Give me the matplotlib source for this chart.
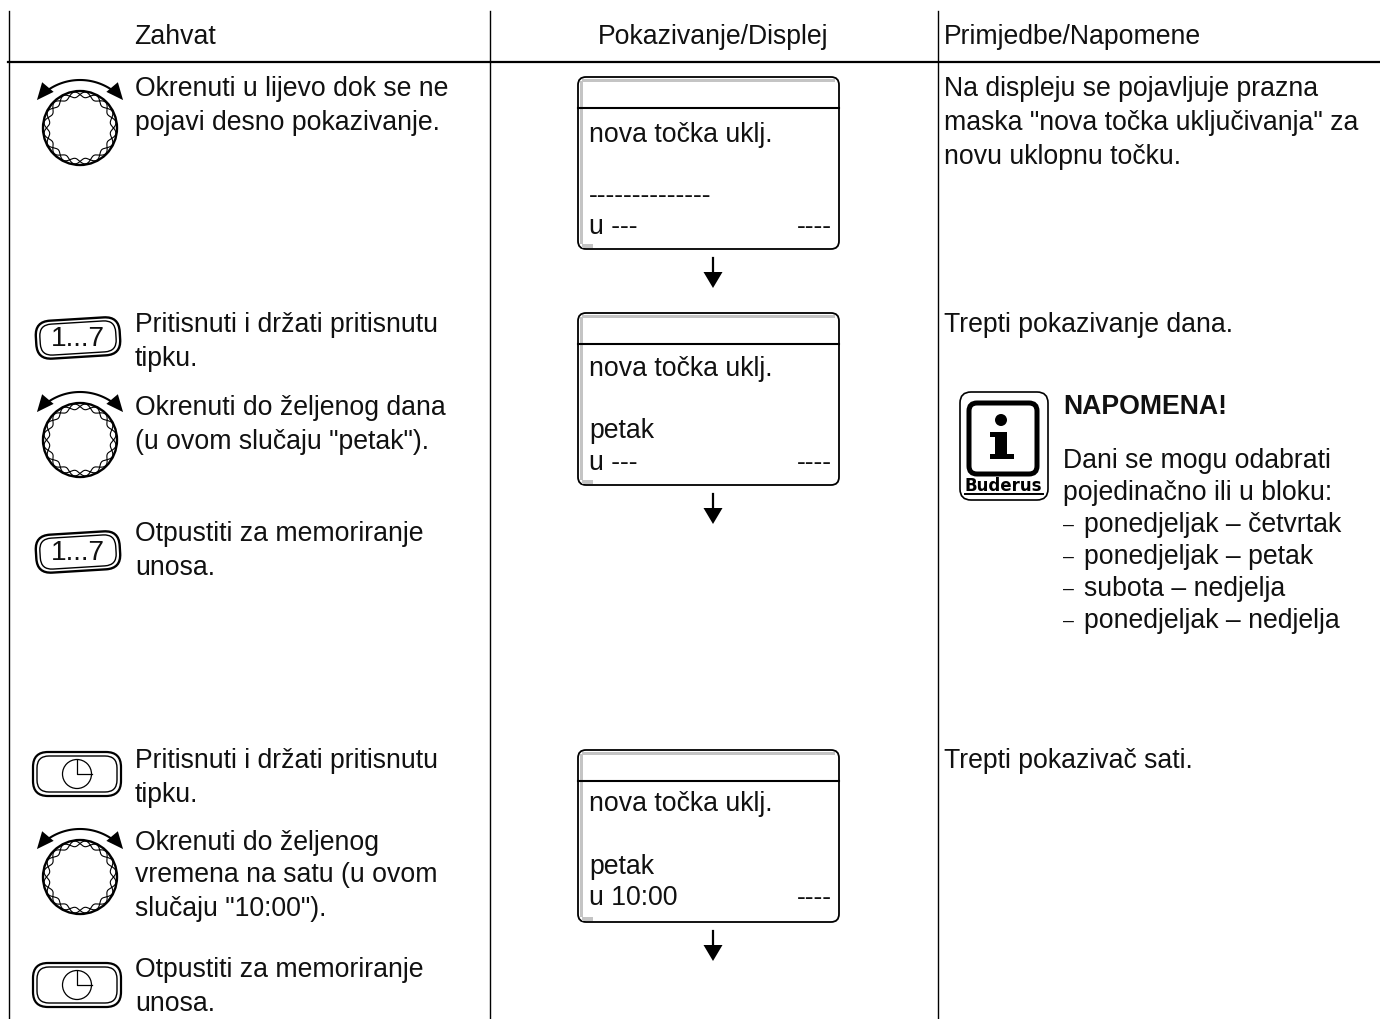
import numpy as np
import matplotlib.pyplot as plt
from matplotlib.patches import FancyBboxPatch, Circle, Rectangle, Polygon
from matplotlib.transforms import Affine2D

plt.rcParams['font.family'] = ['Liberation Sans', 'DejaVu Sans']

FS = 19.2

HEADERS = ['Zahvat', 'Pokazivanje/Displej', 'Primjedbe/Napomene']

LEFT_TEXT = [
  'Okrenuti u lijevo dok se ne', 'pojavi desno pokazivanje.',
  'Pritisnuti i držati pritisnutu', 'tipku.',
  'Okrenuti do željenog dana', '(u ovom slučaju "petak").',
  'Otpustiti za memoriranje', 'unosa.',
  'Pritisnuti i držati pritisnutu', 'tipku.',
  'Okrenuti do željenog', 'vremena na satu (u ovom', 'slučaju "10:00").',
  'Otpustiti za memoriranje', 'unosa.',
]
LEFT_Y = [87, 121, 323, 357, 406, 440, 532, 566, 759, 793, 841, 873, 907, 968, 1002]

RIGHT_TEXT = [
  'Na displeju se pojavljuje prazna', 'maska "nova točka uključivanja" za', 'novu uklopnu točku.',
  'Trepti pokazivanje dana.', 'Trepti pokazivač sati.',
]
RIGHT_Y = [87, 121, 155, 323, 759]

NOTE_TITLE = 'NAPOMENA!'
NOTE_TEXT = ['Dani se mogu odabrati', 'pojedinačno ili u bloku:']
NOTE_ITEMS = ['ponedjeljak – četvrtak', 'ponedjeljak – petak', 'subota – nedjelja', 'ponedjeljak – nedjelja']

DISPLAY_DAY = ['--------------', 'petak', 'petak']
DISPLAY_TIME = ['u ---', 'u ---', 'u 10:00']
DISPLAY_TOP = [77, 313, 750]
# baselines inside each display differ a little in the source
DISPLAY_ROWS = [(65, 126, 157), (63, 125, 157), (61, 124, 155)]

KNOB_Y = [128, 440, 877]
KEY17_Y = [338, 552]
KEYCLOCK_Y = [774, 985]

fig = plt.figure(figsize=(13.8, 10.19), dpi=100)
ax = fig.add_axes([0, 0, 1, 1])
ax.set_xlim(0, 1380)
ax.set_ylim(1019, 0)
ax.axis('off')


def txt(x, y, s, **kw):
  kw.setdefault('fontsize', FS)
  kw.setdefault('va', 'center')
  kw.setdefault('color', '#111111')
  ax.text(x, y, s, **kw)


def rounded(x0, y0, x1, y1, r, lw, fc='none', ec='black', z=2, tr=None):
  p = FancyBboxPatch((x0 + r, y0 + r), x1 - x0 - 2 * r, y1 - y0 - 2 * r,
                     boxstyle=f'round,pad={r},rounding_size={r}',
                     fc=fc, ec=ec, lw=lw, zorder=z)
  if tr is not None:
    p.set_transform(tr + ax.transData)
  ax.add_patch(p)


def knob(cy, cx=80):
  ax.add_patch(Circle((cx, cy), 37, fc='white', ec='black', lw=1.7))
  t = np.linspace(0, 2 * np.pi, 800)
  wave = 2.8 * np.abs(np.sin(t * 10))
  ax.plot(cx + (33.5 + wave) * np.cos(t), cy + (33.5 + wave) * np.sin(t), color='black', lw=0.8)
  ax.plot(cx + (33.5 - wave) * np.cos(t), cy + (33.5 - wave) * np.sin(t), color='black', lw=0.8)
  # double headed arc over the knob
  R, yc, tip = 56.2, cy + 8.2, np.radians(50)
  a = np.linspace(-tip, tip, 100)
  ax.plot(cx + R * np.sin(a * 0.85), yc - R * np.cos(a * 0.85), color='black', lw=1.5)
  for sgn in (-1, 1):
    tx, ty = cx + sgn * R * np.sin(tip), yc - R * np.cos(tip)
    dx, dy = sgn * np.cos(tip), np.sin(tip)
    bx, by = tx - 17 * dx, ty - 17 * dy
    nx, ny = -dy, dx
    ax.add_patch(Polygon([[tx, ty], [bx + 7.5 * nx, by + 7.5 * ny], [bx - 7.5 * nx, by - 7.5 * ny]],
                         fc='black', ec='none', zorder=3))


def key17(cy, cx=78):
  # key is drawn slightly tilted in the manual
  tr = Affine2D().rotate_deg_around(cx, cy, -3.5)
  rounded(cx - 42, cy - 19, cx + 42, cy + 19, 15, 1.7, z=3, tr=tr)
  rounded(cx - 38, cy - 15.5, cx + 38, cy + 15.5, 12, 1.0, z=3, tr=tr)
  txt(cx, cy + 1, '1...7', ha='center', fontsize=FS + 1)


def keyclock(cy, cx=77):
  rounded(cx - 44, cy - 22, cx + 44, cy + 22, 15, 1.6, z=3)
  rounded(cx - 40, cy - 18, cx + 40, cy + 18, 12, 1.0, z=3)
  ax.add_patch(Circle((cx, cy), 14.5, fc='none', ec='black', lw=0.9, zorder=3))
  ax.plot([cx, cx, cx + 14.5], [cy - 14.5, cy, cy], color='black', lw=0.9, zorder=3)


def display(top, day, time, rows):
  x0, x1 = 578, 839
  rounded(x0, top, x1, top + 172, 8, 1.3, fc='white', z=4)
  ax.add_patch(Rectangle((x0 + 4, top + 1.5), x1 - x0 - 8, 3.5, fc='#c4c4c4', ec='none', zorder=5))
  ax.add_patch(Rectangle((x0 + 1.5, top + 4), 3.5, 163, fc='#c4c4c4', ec='none', zorder=5))
  ax.add_patch(Rectangle((x0 + 4, top + 167), 11, 3.5, fc='#c4c4c4', ec='none', zorder=5))
  ax.plot([x0, x1], [top + 31, top + 31], color='black', lw=1.5, zorder=6)
  txt(589, top + rows[0], 'nova točka uklj.', va='baseline', zorder=6)
  txt(589, top + rows[1], day, va='baseline', zorder=6)
  txt(589, top + rows[2], time, va='baseline', zorder=6)
  txt(832, top + rows[2], '----', ha='right', va='baseline', zorder=6)
  ax.plot([713, 713], [top + 181, top + 196], color='black', lw=1.6)
  ax.add_patch(Polygon([[703.5, top + 195], [722.5, top + 195], [713, top + 211]], fc='black', ec='none'))


def info_icon():
  rounded(960, 392, 1048, 500, 11, 1.2)
  rounded(969, 403, 1037, 474, 8, 3.6)
  ax.add_patch(Circle((1001, 420), 6, fc='black', ec='none'))
  ax.add_patch(Rectangle((995, 432), 12, 24, fc='black', ec='none'))
  ax.add_patch(Rectangle((990, 432), 8, 5, fc='black', ec='none'))
  ax.add_patch(Rectangle((990, 454), 24, 4.5, fc='black', ec='none'))
  txt(1003.5, 486, 'Buderus', ha='center', fontsize=12, fontweight='bold', color='black',
      family='DejaVu Sans')
  ax.plot([965, 1043], [494, 494], color='black', lw=1.4)


# table rules
ax.plot([8, 1380], [62, 62], color='black', lw=1.6)
for x in [9, 490, 938]:
  ax.plot([x, x], [11, 1019], color='black', lw=1.0)

txt(134, 37, HEADERS[0])
txt(598, 37, HEADERS[1])
txt(944, 37, HEADERS[2])

for s, y in zip(LEFT_TEXT, LEFT_Y):
  txt(135, y + 2, s)
for s, y in zip(RIGHT_TEXT, RIGHT_Y):
  txt(944, y + 2, s)

for y in KNOB_Y:
  knob(y)
for y in KEY17_Y:
  key17(y)
for y in KEYCLOCK_Y:
  keyclock(y)
for top, d, t, rows in zip(DISPLAY_TOP, DISPLAY_DAY, DISPLAY_TIME, DISPLAY_ROWS):
  display(top, d, t, rows)

info_icon()
txt(1063, 407, NOTE_TITLE, fontweight='bold')
for s, y in zip(NOTE_TEXT, [461, 493]):
  txt(1063, y, s)
for s, y in zip(NOTE_ITEMS, [525, 557, 589, 621]):
  txt(1063, y, '–', fontsize=14)
  txt(1084, y, s)

fig.savefig('out.png', dpi=100)
